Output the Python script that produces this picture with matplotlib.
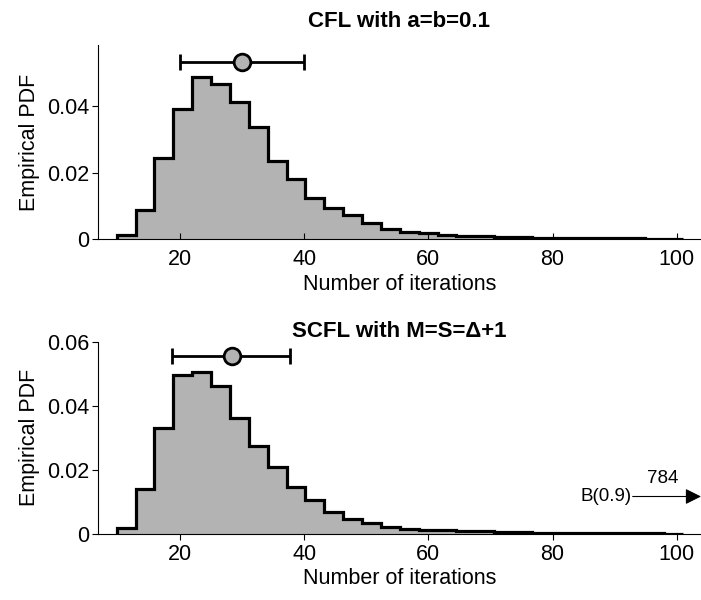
import numpy as np
import matplotlib
matplotlib.use("Agg")
import matplotlib.pyplot as plt

plt.rcParams["font.family"] = ["Liberation Sans", "DejaVu Sans"]

# %% DATA
bin_edges = np.linspace(9.8, 101.0, 31)

cfl_pdf = [0.0012, 0.0087, 0.0243, 0.0391, 0.0488, 0.0468, 0.0414, 0.0337,
           0.0236, 0.0181, 0.0125, 0.0094, 0.0072, 0.0047, 0.0029, 0.0022,
           0.0017, 0.0012, 0.0010, 0.0008, 0.0006, 0.0005, 0.0004, 0.0003,
           0.0003, 0.0002, 0.0002, 0.0002, 0.0001, 0.0001]
scfl_pdf = [0.0018, 0.0140, 0.0332, 0.0495, 0.0504, 0.0463, 0.0362, 0.0276,
            0.0208, 0.0148, 0.0106, 0.0070, 0.0046, 0.0035, 0.0023, 0.0015,
            0.0012, 0.0012, 0.0009, 0.0009, 0.0006, 0.0006, 0.0004, 0.0004,
            0.0003, 0.0003, 0.0002, 0.0002, 0.0002, 0.0001]

# mean and spread markers (center, low, high, height)
cfl_mean = (30.0, 20.0, 40.0, 0.0535)
scfl_mean = (28.3, 18.7, 37.7, 0.0556)

titles = ["CFL with a=b=0.1", "SCFL with M=S=\u0394+1"]
ylims = [0.0585, 0.06]
yticks = [[0, 0.02, 0.04], [0, 0.02, 0.04, 0.06]]
xticks = [20, 40, 60, 80, 100]
outlier_label = "B(0.9)"
outlier_value = "784"
outlier_y = 0.0117

FILL = "#b3b3b3"
FS = 15.5

# %% FIGURE
fig = plt.figure(figsize=(7.01, 6.0), dpi=100)
ax_top = fig.add_axes([0.1398, 0.6017, 0.8602, 0.3233])
ax_bot = fig.add_axes([0.1398, 0.1100, 0.8602, 0.3205])

panels = [(ax_top, cfl_pdf, cfl_mean), (ax_bot, scfl_pdf, scfl_mean)]
for i, (ax, pdf, (m, lo, hi, yy)) in enumerate(panels):
    ax.stairs(pdf, bin_edges, fill=True, color=FILL, baseline=0)
    ax.stairs(pdf, bin_edges, color="black", lw=2.3, baseline=0)
    ax.errorbar([m], [yy], xerr=[[m - lo], [hi - m]], fmt="o", color="black",
                ecolor="black", elinewidth=2.0, capsize=6, capthick=2.0,
                markersize=12, markerfacecolor=FILL, markeredgecolor="black",
                markeredgewidth=2.0)
    ax.set_xlim(6.8, 103.9)
    ax.set_ylim(0, ylims[i])
    ax.set_xticks(xticks)
    ax.set_yticks(yticks[i])
    ax.set_yticklabels(["0" if v == 0 else f"{v:.2f}" for v in yticks[i]])
    ax.spines["top"].set_visible(False)
    ax.spines["right"].set_visible(False)
    ax.spines["left"].set_linewidth(0.8)
    ax.spines["bottom"].set_linewidth(0.8)
    ax.tick_params(axis="both", labelsize=FS, length=4, width=0.8)
    if i == 0:
        ax.tick_params(axis="x", direction="in", pad=7)
    else:
        ax.tick_params(axis="x", direction="out", pad=3)
    ax.tick_params(axis="y", direction="out", pad=2)
    ax.set_ylabel("Empirical PDF", fontsize=FS, labelpad=5)

ax_top.set_xlabel("Number of iterations", fontsize=FS, labelpad=3)
ax_bot.set_xlabel("Number of iterations", fontsize=FS, labelpad=2)
ax_top.set_title(titles[0], fontsize=16, fontweight="bold", pad=13)
ax_bot.set_title(titles[1], fontsize=16, fontweight="bold", pad=2)

# outlier arrow on the bottom panel
ax_bot.annotate("", xy=(103.9, outlier_y), xytext=(92.9, outlier_y),
                arrowprops=dict(arrowstyle="-|>", color="black", lw=0.8,
                                mutation_scale=24, shrinkA=0, shrinkB=0),
                annotation_clip=False)
ax_bot.text(92.8, outlier_y, outlier_label, ha="right", va="center", fontsize=13.5)
ax_bot.text(97.7, 0.0172, outlier_value, ha="center", va="center", fontsize=13.5)

fig.savefig("out.png", dpi=100)
